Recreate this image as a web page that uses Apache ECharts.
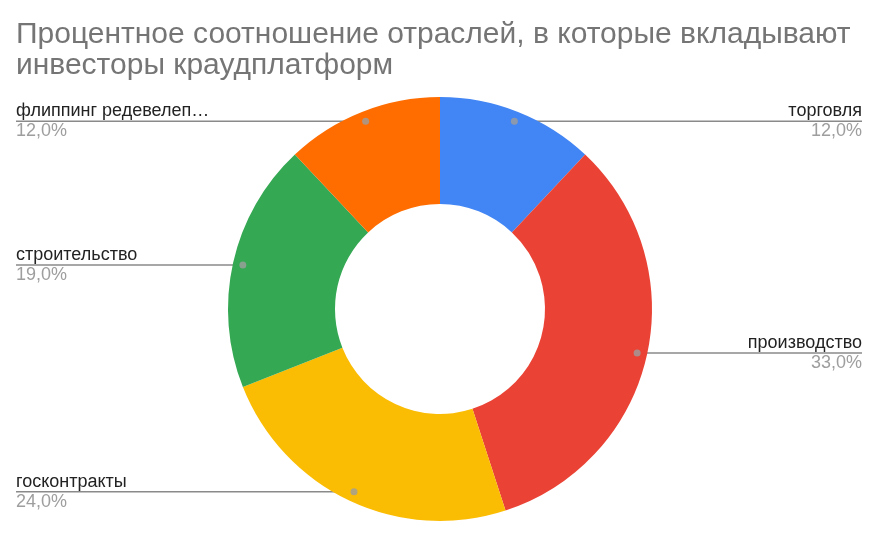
<!DOCTYPE html>
<html><head><meta charset="utf-8">
<script src="https://cdn.jsdelivr.net/npm/echarts@6/dist/echarts.min.js"></script>
<style>html,body{margin:0;padding:0;background:#fff}#c{width:884px;height:545px}</style>
</head><body><div id="c"></div>
<script>
const titleText = 'Процентное соотношение отраслей, в которые вкладывают\nинвесторы краудплатформ';
const categories = ['торговля', 'производство', 'госконтракты', 'строительство', 'флиппинг редевелеп…'];
const values = [12, 33, 24, 19, 12];
const colors = ['#4285f4', '#ea4335', '#fbbc04', '#34a853', '#ff6d01'];

const CX = 440, CY = 309, R_OUT = 212, R_IN = 105, R_DOT = 202;
const total = values.reduce((a, b) => a + b, 0);
const mids = [];
let acc = 0;
values.forEach(v => { mids.push(acc + v / 2); acc += v; });

const chart = echarts.init(document.getElementById('c'), null, {renderer: 'canvas'});
const W = 884;
const FONT = '"Liberation Sans", Arial, sans-serif';
function fmt(v) { return (v / total * 100).toFixed(1).replace('.', ',') + '%'; }

chart.setOption({
  animation: false,
  backgroundColor: '#fff',
  title: {
    text: titleText, left: 11, top: 14,
    textStyle: {fontFamily: FONT, fontSize: 30, fontWeight: 'normal', color: '#757575', lineHeight: 31}
  },
  polar: {center: [CX, CY], radius: R_OUT},
  angleAxis: {type: 'value', min: 0, max: total, startAngle: 90, clockwise: true, show: false},
  radiusAxis: {type: 'value', min: 0, max: R_OUT, show: false},
  series: [{
    type: 'pie',
    center: [CX, CY],
    radius: [R_IN, R_OUT],
    startAngle: 90,
    clockwise: true,
    data: categories.map((n, i) => ({name: n, value: values[i], itemStyle: {color: colors[i]}})),
    label: {
      show: true,
      position: 'outside',
      formatter: p => '{n|' + p.name + '}\n{v|' + fmt(p.value) + '}',
      rich: {
        n: {fontFamily: FONT, fontSize: 18, color: '#222222', lineHeight: 20},
        v: {fontFamily: FONT, fontSize: 18, color: '#9e9e9e', lineHeight: 20}
      }
    },
    labelLine: {show: true, length: 0, length2: 10, lineStyle: {color: '#8a8a8a', width: 1.6}},
    labelLayout: function (p) {
      const i = p.dataIndex;
      const a = mids[i] / total * Math.PI * 2;
      const px = CX + R_DOT * Math.sin(a);
      const py = CY - R_DOT * Math.cos(a);
      const right = Math.sin(a) >= 0;
      const ex = right ? W - 22 : 16;
      return {
        x: ex, y: py, align: right ? 'right' : 'left', verticalAlign: 'middle',
        labelLinePoints: [[px, py], [ex, py], [ex, py]]
      };
    },
    emphasis: {disabled: true}
  }, {
    type: 'scatter',
    coordinateSystem: 'polar',
    symbol: 'circle',
    symbolSize: 7,
    itemStyle: {color: '#9e9e9e'},
    data: mids.map(m => [R_DOT, m]),
    z: 5,
    silent: true
  }]
});
</script></body></html>
